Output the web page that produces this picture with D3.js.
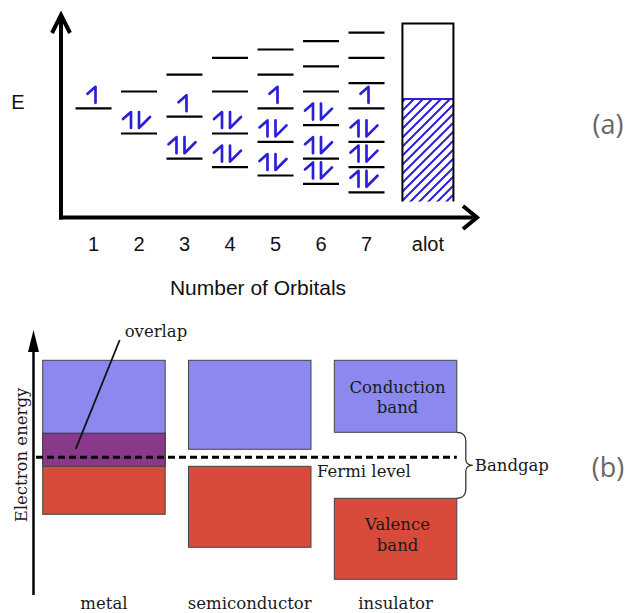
<!DOCTYPE html>
<html>
<head>
<meta charset="utf-8">
<script src="https://cdn.jsdelivr.net/npm/d3@7"></script>
<style>
  html, body { margin: 0; padding: 0; background: #fff; }
  svg { display: block; }
</style>
</head>
<body>
<svg id="chart" width="626" height="613"></svg>
<script>
// ---------- Panel (a): molecular orbital levels ----------
const orbitalCounts = ["1", "2", "3", "4", "5", "6", "7"];
const levelEnergies = [
  [0],
  [2, -3],
  [4, -1, -6],
  [6, 2, -3, -7],
  [7, 4, 0, -4, -8],
  [8, 5, 2, -2, -6, -9],
  [9, 6, 3, 0, -4, -7, -10]
];
const levelElectrons = [
  [1],
  [0, 2],
  [0, 1, 2],
  [0, 0, 2, 2],
  [0, 0, 1, 2, 2],
  [0, 0, 0, 2, 2, 2],
  [0, 0, 0, 1, 2, 2, 2]
];
const bulkLabel = "alot";
const bulkBand = [-11.1, 10.1];
const bulkFilledTo = 1.1;
const panelATitleX = "Number of Orbitals";
const panelATitleY = "E";

// ---------- Panel (b): band structure ----------
const materials = ["metal", "semiconductor", "insulator"];
const conductionBand = [[-0.9, 9.7], [0.8, 9.7], [2.5, 9.7]];
const valenceBand = [[-5.7, 2.4], [-9.0, -0.9], [-12.2, -4.1]];
const fermiLevel = 0;
const panelBTitleY = "Electron energy";

const svg = d3.select("#chart");
const BLUE_E = "#2b1fd8";

// ================= Panel (a) =================
const yA = d3.scaleLinear().domain([-13, 12.5]).range([217.5, 3.3]);
const xA = d3.scalePoint().domain(orbitalCounts).range([93.5, 366.5]);
const xBulk = xA("7") + xA.step() * 1.35;
const levelW = 36;

const gA = svg.append("g");

// hatch pattern
const defs = svg.append("defs");
const pat = defs.append("pattern")
  .attr("id", "hatch").attr("patternUnits", "userSpaceOnUse")
  .attr("width", 9).attr("height", 9);
pat.append("path")
  .attr("d", "M-2,2 L2,-2 M0,9 L9,0 M7,11 L11,7")
  .attr("stroke", BLUE_E).attr("stroke-width", 2);

// axes
gA.append("line").attr("x1", 61).attr("x2", 61).attr("y1", yA(-13) + 2).attr("y2", 16)
  .attr("stroke", "#000").attr("stroke-width", 4);
gA.append("line").attr("x1", 59).attr("x2", 476).attr("y1", yA(-13)).attr("y2", yA(-13))
  .attr("stroke", "#000").attr("stroke-width", 4);
gA.append("path").attr("d", "M52,33 L61,15 L70,33")
  .attr("fill", "none").attr("stroke", "#000").attr("stroke-width", 4);
gA.append("path").attr("d", `M463,${yA(-13) - 11.5} L477,${yA(-13)} L463,${yA(-13) + 11.5}`)
  .attr("fill", "none").attr("stroke", "#000").attr("stroke-width", 4);

// tick labels
const tickFont = "'Liberation Sans', Arial, sans-serif";
gA.selectAll("text.tick").data(orbitalCounts.concat([bulkLabel])).enter()
  .append("text").attr("class", "tick")
  .attr("x", (d, i) => i < orbitalCounts.length ? xA(d) : xBulk)
  .attr("y", 251)
  .attr("text-anchor", "middle")
  .attr("font-family", tickFont).attr("font-size", 20).attr("fill", "#111")
  .text(d => d);
gA.append("text").attr("x", 258).attr("y", 295).attr("text-anchor", "middle")
  .attr("font-family", tickFont).attr("font-size", 21).attr("fill", "#111")
  .text(panelATitleX);
gA.append("text").attr("x", 18).attr("y", 109).attr("text-anchor", "middle")
  .attr("font-family", tickFont).attr("font-size", 20).attr("fill", "#111")
  .text(panelATitleY);

// levels
const levels = [];
orbitalCounts.forEach((c, i) => {
  levelEnergies[i].forEach((e, j) => {
    levels.push({ col: c, e: e, n: levelElectrons[i][j] });
  });
});
gA.selectAll("line.level").data(levels).enter().append("line")
  .attr("x1", d => xA(d.col) - levelW / 2).attr("x2", d => xA(d.col) + levelW / 2)
  .attr("y1", d => yA(d.e)).attr("y2", d => yA(d.e))
  .attr("stroke", "#000").attr("stroke-width", 2.2);

function upHarpoon(x, yb) { return `M${x},${yb} V${yb - 16} L${x - 8},${yb - 9}`; }
function downHarpoon(x, yb) { return `M${x},${yb - 16} V${yb} L${x + 11},${yb - 11}`; }

gA.selectAll("path.elec").data(levels.filter(d => d.n > 0)).enter().append("path")
  .attr("d", d => {
    const yb = yA(d.e) - 5.5;
    const xl = xA(d.col) - levelW / 2;
    if (d.n === 1) return upHarpoon(xA(d.col) + 2, yb);
    return upHarpoon(xl + 10, yb) + " " + downHarpoon(xl + 18, yb);
  })
  .attr("fill", "none").attr("stroke", BLUE_E).attr("stroke-width", 2.7)
  .attr("stroke-linejoin", "round").attr("stroke-linecap", "round");

// bulk band box
const bx0 = xBulk - 25.5, bx1 = xBulk + 25.5;
gA.append("rect").attr("x", bx0).attr("y", yA(bulkFilledTo))
  .attr("width", bx1 - bx0).attr("height", yA(bulkBand[0]) - yA(bulkFilledTo))
  .attr("fill", "url(#hatch)");
gA.append("line").attr("x1", bx0).attr("x2", bx1)
  .attr("y1", yA(bulkFilledTo)).attr("y2", yA(bulkFilledTo))
  .attr("stroke", BLUE_E).attr("stroke-width", 2);
gA.append("path")
  .attr("d", `M${bx0},${yA(bulkBand[0])} V${yA(bulkBand[1])} H${bx1} V${yA(bulkBand[0])}`)
  .attr("fill", "none").attr("stroke", "#000").attr("stroke-width", 2);

// ================= Panel (b) =================
const yB = d3.scaleLinear().domain([0, 10]).range([457.3, 357.3]);
const xB = d3.scaleBand().domain(materials).range([42.7, 456.8]).paddingInner(0.16).paddingOuter(0);
const bw = xB.bandwidth();
const serif = "'DejaVu Serif', serif";
const FS = 16.5;
const TXT = "#1a1a1a";
const gB = svg.append("g");

const CB_COL = "#8b89f0", VB_COL = "#d84b3b", OV_COL = "#8a3889";
const bandStroke = "#444";

materials.forEach((m, i) => {
  const cb = conductionBand[i], vb = valenceBand[i];
  gB.append("rect").attr("x", xB(m)).attr("y", yB(cb[1]))
    .attr("width", bw).attr("height", yB(cb[0]) - yB(cb[1]))
    .attr("fill", CB_COL).attr("stroke", bandStroke).attr("stroke-width", 1);
  gB.append("rect").attr("x", xB(m)).attr("y", yB(vb[1]))
    .attr("width", bw).attr("height", yB(vb[0]) - yB(vb[1]))
    .attr("fill", VB_COL).attr("stroke", bandStroke).attr("stroke-width", 1);
  const lo = Math.max(cb[0], vb[0]), hi = Math.min(cb[1], vb[1]);
  if (hi > lo) {
    gB.append("rect").attr("x", xB(m)).attr("y", yB(hi))
      .attr("width", bw).attr("height", yB(lo) - yB(hi))
      .attr("fill", OV_COL).attr("stroke", bandStroke).attr("stroke-width", 1);
  }
});

// y axis
gB.append("line").attr("x1", 33.5).attr("x2", 33.5).attr("y1", 595).attr("y2", 345)
  .attr("stroke", "#000").attr("stroke-width", 2.5);
gB.append("path").attr("d", "M33.5,330 L39,352 L28,352 Z").attr("fill", "#000");
gB.append("text")
  .attr("transform", `translate(27,455) rotate(-90)`)
  .attr("text-anchor", "middle")
  .attr("font-family", serif).attr("font-size", FS).attr("fill", TXT)
  .text(panelBTitleY);

// fermi level
gB.append("line").attr("x1", 36).attr("x2", xB("insulator") + bw)
  .attr("y1", yB(fermiLevel)).attr("y2", yB(fermiLevel))
  .attr("stroke", "#000").attr("stroke-width", 3).attr("stroke-dasharray", "7,4");
gB.append("text").attr("x", xB("semiconductor") + bw + 6).attr("y", yB(fermiLevel) + 20)
  .attr("font-family", serif).attr("font-size", FS).attr("fill", TXT)
  .text("Fermi level");

// material labels
gB.selectAll("text.mat").data(materials).enter().append("text")
  .attr("x", d => xB(d) + bw / 2).attr("y", 609)
  .attr("text-anchor", "middle")
  .attr("font-family", serif).attr("font-size", FS).attr("fill", TXT)
  .text(d => d);

// overlap annotation
const ov = [Math.max(conductionBand[0][0], valenceBand[0][0]), Math.min(conductionBand[0][1], valenceBand[0][1])];
const olx = xB("metal") + 82, oly = 337;
gB.append("text").attr("x", olx).attr("y", oly)
  .attr("font-family", serif).attr("font-size", FS).attr("fill", TXT).text("overlap");
gB.append("line").attr("x1", olx - 5).attr("y1", oly + 3)
  .attr("x2", xB("metal") + bw * 0.27).attr("y2", yB((ov[0] + ov[1]) / 2) - 1)
  .attr("stroke", "#111").attr("stroke-width", 1.8);

// insulator band text
const ic = xB("insulator") + bw / 2 + 2;
const bandText = [["Conduction", 393], ["band", 413], ["Valence", 530], ["band", 551]];
gB.selectAll("text.bt").data(bandText).enter().append("text")
  .attr("x", ic).attr("y", d => d[1]).attr("text-anchor", "middle")
  .attr("font-family", serif).attr("font-size", FS).attr("fill", TXT).text(d => d[0]);

// bandgap brace
const bxr = xB("insulator") + bw;
const yt = yB(conductionBand[2][0]), ybt = yB(valenceBand[2][1]);
const ym = (yt + ybt) / 2;
gB.append("path")
  .attr("d", `M${bxr},${yt} Q${bxr + 9},${yt} ${bxr + 9},${yt + 9} L${bxr + 9},${ym - 6} Q${bxr + 9},${ym} ${bxr + 16},${ym} Q${bxr + 9},${ym} ${bxr + 9},${ym + 6} L${bxr + 9},${ybt - 9} Q${bxr + 9},${ybt} ${bxr},${ybt}`)
  .attr("fill", "none").attr("stroke", "#333").attr("stroke-width", 1.3);
gB.append("text").attr("x", bxr + 18).attr("y", ym + 6)
  .attr("font-family", serif).attr("font-size", FS).attr("fill", TXT).text("Bandgap");

// panel letters
svg.append("text").attr("x", 608).attr("y", 134).attr("text-anchor", "middle")
  .attr("font-family", "'Open Sans', sans-serif").attr("font-size", 27).attr("fill", "#666").text("(a)");
svg.append("text").attr("x", 608).attr("y", 477).attr("text-anchor", "middle")
  .attr("font-family", "'Open Sans', sans-serif").attr("font-size", 27).attr("fill", "#666").text("(b)");
</script>
</body>
</html>
